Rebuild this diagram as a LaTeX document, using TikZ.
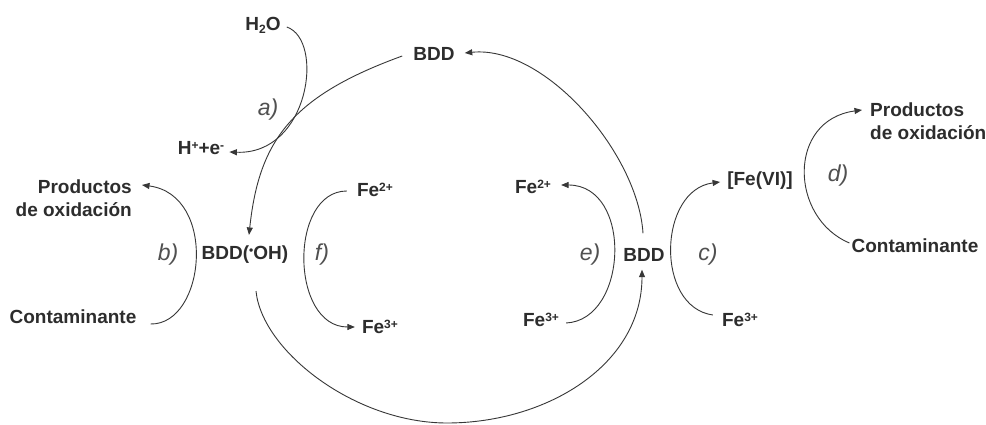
\documentclass[tikz,border=0pt]{standalone}
\usepackage{fontspec}
\setmainfont{Liberation Sans}
\usetikzlibrary{arrows.meta}
\definecolor{txtc}{RGB}{45,45,45}
\definecolor{labc}{RGB}{80,80,80}
\definecolor{linec}{RGB}{55,55,55}
\newcommand\supx[1]{\raisebox{4.8pt}{\fontsize{12}{12}\selectfont #1}}
\newcommand\subx[1]{\raisebox{-3pt}{\fontsize{12}{12}\selectfont #1}}
\newcommand\radot{\raisebox{5.5pt}{\fontsize{12}{12}\selectfont •}}
\begin{document}
\begin{tikzpicture}[x=1pt,y=1pt,
  chem/.style={inner sep=0pt, text=txtc, font=\fontsize{19}{23}\selectfont\bfseries},
  steplab/.style={inner sep=0pt, text=labc, font=\fontsize{23}{23}\selectfont\itshape},
  conn/.style={draw=linec, line width=0.9pt},
  arr/.style={conn, -{Triangle[length=7.5pt,width=6pt]}}]
\useasboundingbox[fill=white] (0,0) rectangle (986,425);
\node[chem] (h2o) at (263,400) {H\subx{2}O};
\node[chem] (bddt) at (434,371) {BDD};
\node[steplab] (alab) at (268,315) {a)};
\node[chem] (hpe) at (201,277) {H\supx{+}+e\supx{-}};
\node[chem, align=right, anchor=north east] (prodL) at (132,245) {Productos\\de oxidación};
\node[steplab] (blab) at (168,170) {b)};
\node[chem] (bdoh) at (245,170) {BDD(\radot OH)};
\node[steplab] (flab) at (322,170) {f)};
\node[chem] (fe2f) at (375,235) {Fe\supx{2+}};
\node[chem] (fe3f) at (380,98) {Fe\supx{3+}};
\node[chem] (fe2e) at (533,238) {Fe\supx{2+}};
\node[chem] (fe3e) at (541,105) {Fe\supx{3+}};
\node[steplab] (elab) at (590,170) {e)};
\node[chem] (bddr) at (644,170) {BDD};
\node[steplab] (clab) at (708,170) {c)};
\node[chem] (fevi) at (760,244) {[Fe(VI)]};
\node[chem] (fe3c) at (740,105) {Fe\supx{3+}};
\node[steplab] (dlab) at (838,249) {d)};
\node[chem, align=left, anchor=north west] (prodR) at (870,322) {Productos\\de oxidación};
\node[chem] (contR) at (915,179) {Contaminante};
\node[chem] (contL) at (73,108) {Contaminante};
\coordinate (botm) at (447,2);

\draw[arr] ([shift={(6,-2)}]h2o.east) .. controls +(38,-13) and +(80,-3) .. ([shift={(5,-4)}]hpe.east);
\draw[arr] ([shift={(-11,-2)}]bddt.west) .. controls +(-110,-40) and +(10,95) .. ([shift={(4,11)}]bdoh.north);
\draw[arr] ([shift={(-1,15)}]bddr.north) .. controls +(-5,80) and +(80,8) .. ([shift={(10,1)}]bddt.east);
\draw[arr] ([shift={(11,-27)}]bdoh.south) .. controls +(6,-60) and +(-92,0) .. (botm) .. controls +(100,0) and +(0,-95) .. ([shift={(-2,-8)}]bddr.south);
\draw[arr] ([shift={(14,-7)}]contL.east) .. controls +(55,-1) and +(76,-10) .. ([shift={(10,-5)}]prodL.north east);
\draw[arr] ([shift={(-10,-1)}]fe2f.west) .. controls +(-58,0) and +(-65,0) .. ([shift={(-7,0)}]fe3f.west);
\draw[arr] ([shift={(7,-3)}]fe3e.east) .. controls +(62,3) and +(72,0) .. ([shift={(10,2)}]fe2e.east);
\draw[arr] ([shift={(-9,5)}]fe3c.west) .. controls +(-58,8) and +(-62,-8) .. ([shift={(-7,-1)}]fevi.west);
\draw[arr] ([shift={(-2,3)}]contR.west) .. controls +(-60,25) and +(-75,-10) .. ([shift={(-8,-7)}]prodR.north west);
\end{tikzpicture}
\end{document}
